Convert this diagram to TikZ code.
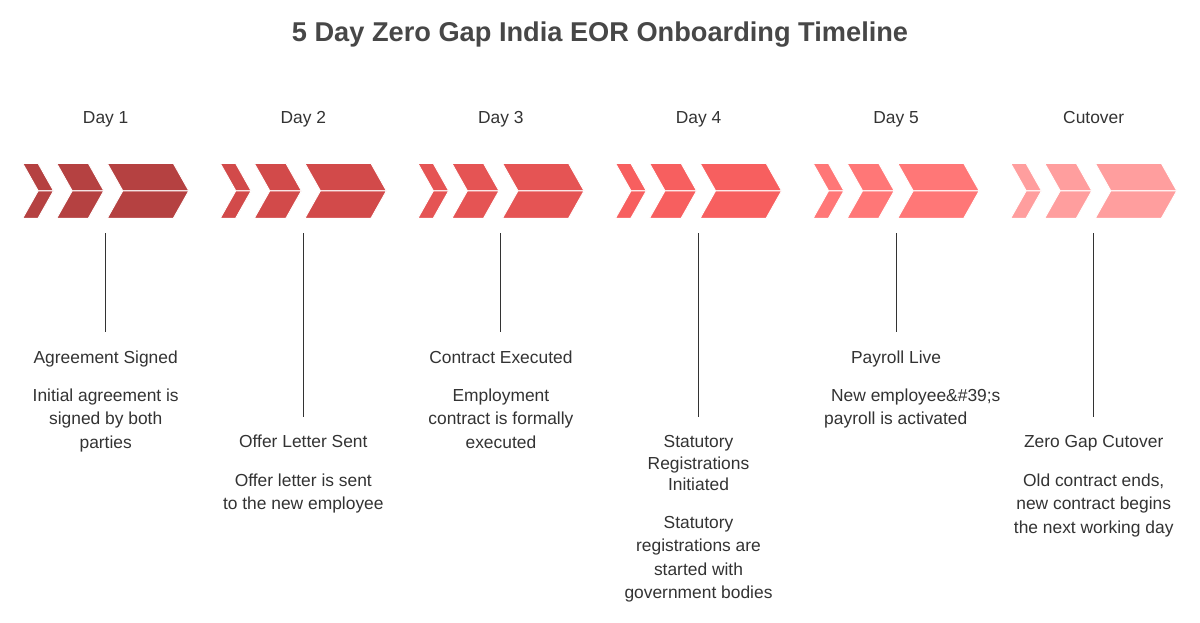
\documentclass[tikz,border=0pt]{standalone}
\usepackage{fontspec}
\setmainfont{Liberation Sans}
\definecolor{cA}{HTML}{B54141}
\definecolor{cB}{HTML}{D24A4A}
\definecolor{cC}{HTML}{E55454}
\definecolor{cD}{HTML}{F75F5F}
\definecolor{cE}{HTML}{FF7777}
\definecolor{cF}{HTML}{FF9E9E}
\definecolor{txt}{HTML}{333333}
\definecolor{ttl}{HTML}{474747}
\newcommand\fstrut{\rule{0pt}{13pt}}
\newcommand\chevgroup[2]{%
  \foreach \xo/\aa in {0/15.3, 34/31.6, 84.6/66}{%
    \fill[#2, draw=white, line width=0.9pt, line join=miter]
      (#1+\xo,163.3) -- (#1+\xo+\aa,163.3) -- (#1+\xo+\aa+15.5,190.8) -- (#1+\xo+15.5,190.8) -- cycle;
    \fill[#2, draw=white, line width=0.9pt, line join=miter]
      (#1+\xo+15.5,190.8) -- (#1+\xo+\aa+15.5,190.8) -- (#1+\xo+\aa,218.3) -- (#1+\xo,218.3) -- cycle;
  }%
}
\begin{document}
\begin{tikzpicture}[x=1pt,y=-1pt,
  every node/.style={inner sep=0pt, text=txt},
  daylbl/.style={anchor=base, font=\fontsize{17.4}{21.5}\selectfont},
  ttlbl/.style={anchor=north, align=center, font=\fontsize{17.4}{21.5}\selectfont},
  desclbl/.style={anchor=north, align=center, font=\fontsize{17.4}{23.3}\selectfont},
  stem/.style={draw=txt, line width=1.1pt}]
\useasboundingbox (0,0) rectangle (1200,622);
\fill[white] (0,0) rectangle (1200,622);

\node[anchor=base, text=ttl, font=\bfseries\fontsize{27.2}{30}\selectfont] (title) at (600,41.7) {5 Day Zero Gap India EOR Onboarding Timeline};

% chevrons
\chevgroup{22.7}{cA}
\chevgroup{220.3}{cB}
\chevgroup{417.9}{cC}
\chevgroup{615.5}{cD}
\chevgroup{813.1}{cE}
\chevgroup{1010.7}{cF}

% day labels
\node[daylbl] (d1) at (105.7,123.3) {Day 1};
\node[daylbl] (d2) at (303.3,123.3) {Day 2};
\node[daylbl] (d3) at (500.9,123.3) {Day 3};
\node[daylbl] (d4) at (698.5,123.3) {Day 4};
\node[daylbl] (d5) at (896.1,123.3) {Day 5};
\node[daylbl] (d6) at (1093.7,123.3) {Cutover};

% stems
\coordinate (s1t) at (105.7,233); \coordinate (s1b) at (105.7,332);
\coordinate (s2t) at (303.3,233); \coordinate (s2b) at (303.3,417);
\coordinate (s3t) at (500.9,233); \coordinate (s3b) at (500.9,332);
\coordinate (s4t) at (698.5,233); \coordinate (s4b) at (698.5,417);
\coordinate (s5t) at (896.1,233); \coordinate (s5b) at (896.1,332);
\coordinate (s6t) at (1093.7,233); \coordinate (s6b) at (1093.7,417);
\draw[stem] (s1t) -- (s1b);
\draw[stem] (s2t) -- (s2b);
\draw[stem] (s3t) -- (s3b);
\draw[stem] (s4t) -- (s4b);
\draw[stem] (s5t) -- (s5b);
\draw[stem] (s6t) -- (s6b);

% texts (top = first baseline - 13)
\node[ttlbl] (t1) at (105.7,350.3) {\fstrut Agreement Signed};
\node[desclbl] (e1) at (105.7,388.3) {\fstrut Initial agreement is\\signed by both\\parties};

\node[ttlbl] (t2) at (303.3,434.3) {\fstrut Offer Letter Sent};
\node[desclbl] (e2) at (303.3,473.3) {\fstrut Offer letter is sent\\to the new employee};

\node[ttlbl] (t3) at (500.9,350.3) {\fstrut Contract Executed};
\node[desclbl] (e3) at (500.9,388.3) {\fstrut Employment\\contract is formally\\executed};

\node[ttlbl] (t4) at (698.5,434.3) {\fstrut Statutory\\Registrations\\Initiated};
\node[desclbl] (e4) at (698.5,515.3) {\fstrut Statutory\\registrations are\\started with\\government bodies};

\node[ttlbl] (t5) at (896.1,350.3) {\fstrut Payroll Live};
\node[desclbl] (e5a) at (915.8,388.3) {\fstrut New employee\&\#39;s};
\node[desclbl] (e5b) at (895.8,411.6) {\fstrut payroll is activated};

\node[ttlbl] (t6) at (1093.7,434.3) {\fstrut Zero Gap Cutover};
\node[desclbl] (e6) at (1093.7,473.3) {\fstrut Old contract ends,\\new contract begins\\the next working day};
\end{tikzpicture}
\end{document}
